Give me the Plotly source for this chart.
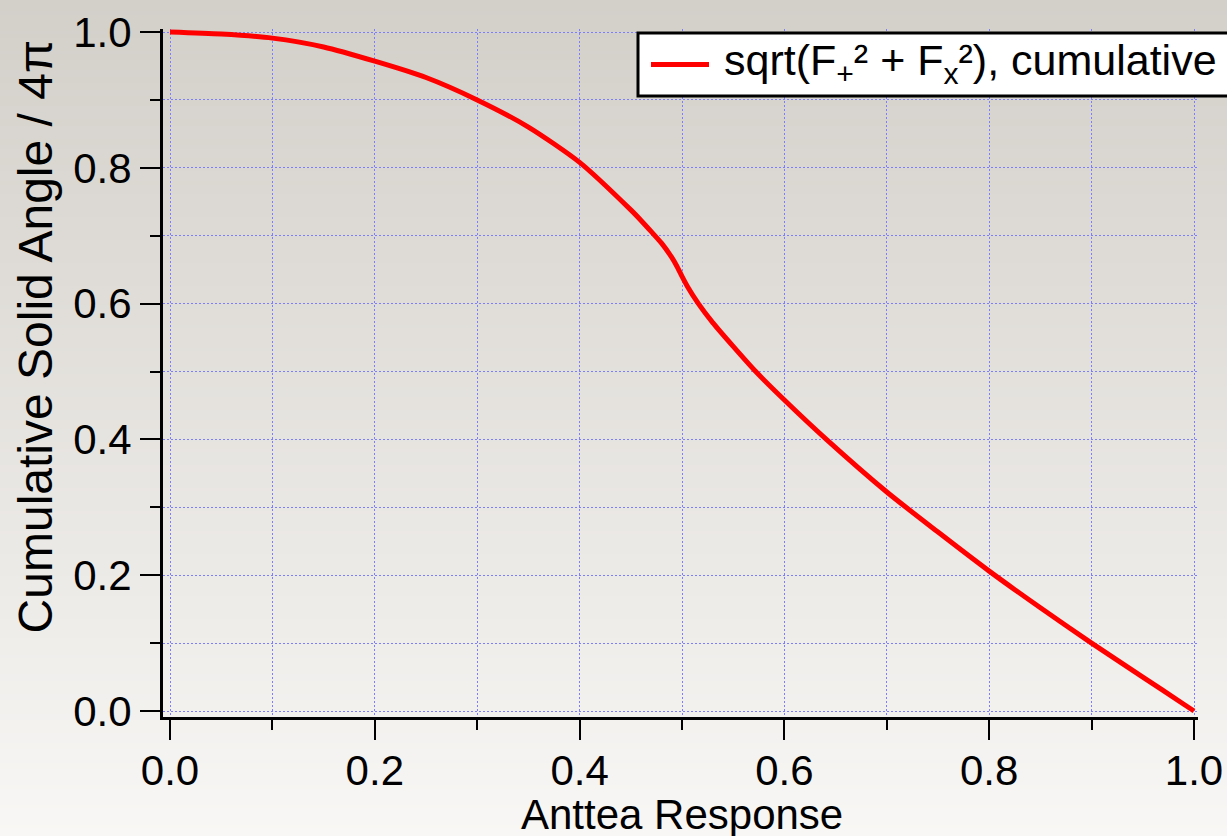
import base64
import struct
import zlib

import plotly.graph_objects as go

# Cumulative sky fraction (solid angle / 4π) with antenna response above a given value
response = [0.0, 0.05, 0.1, 0.15, 0.2, 0.25, 0.3, 0.35, 0.4, 0.45, 0.46, 0.47,
            0.48, 0.49, 0.495, 0.5, 0.505, 0.516, 0.53, 0.55, 0.572, 0.6, 0.641,
            0.7, 0.75, 0.8, 0.85, 0.9, 0.95, 0.99, 1.0]
cum_solid_angle = [1.000, 0.997, 0.991, 0.978, 0.957, 0.933, 0.900, 0.860, 0.808,
                   0.738, 0.7225, 0.706, 0.689, 0.668, 0.655, 0.640, 0.626, 0.600,
                   0.572, 0.537, 0.500, 0.458, 0.400, 0.3225, 0.2635, 0.206, 0.152,
                   0.100, 0.050, 0.010, 0.000]

x_ticks = [0.0, 0.2, 0.4, 0.6, 0.8, 1.0]
y_ticks = [0.0, 0.2, 0.4, 0.6, 0.8, 1.0]

series_name = "sqrt(F<sub>+</sub>² + F<sub>x</sub>²), cumulative"
x_title = "Anttea Response"
y_title = "Cumulative Solid Angle / 4π"

FONT = "Liberation Sans, Arial, Helvetica, sans-serif"
GRID = "rgb(125,125,255)"
W, H = 1227, 836
ML, MR, MT, MB = 163, 29, 29, 119
PW, PH = W - ML - MR, H - MT - MB


def xp(px):
    """Figure pixel column -> paper coordinate."""
    return (px - ML) / PW


def yp(py):
    """Figure pixel row -> paper coordinate."""
    return (H - MB - py) / PH


def gradient_png(top, bottom, h=256, w=2):
    raw = b""
    for i in range(h):
        t = i / (h - 1)
        c = bytes(round(a + (b - a) * t) for a, b in zip(top, bottom))
        raw += b"\x00" + c * w

    def chunk(tag, data):
        return (struct.pack(">I", len(data)) + tag + data
                + struct.pack(">I", zlib.crc32(tag + data) & 0xFFFFFFFF))

    png = (b"\x89PNG\r\n\x1a\n"
           + chunk(b"IHDR", struct.pack(">IIBBBBB", w, h, 8, 2, 0, 0, 0))
           + chunk(b"IDAT", zlib.compress(raw))
           + chunk(b"IEND", b""))
    return "data:image/png;base64," + base64.b64encode(png).decode()


fig = go.Figure()
fig.add_trace(go.Scatter(
    x=response, y=cum_solid_angle, mode="lines", name=series_name,
    line=dict(color="#ff0000", width=5, shape="spline", smoothing=0.7),
    showlegend=False,
))

axis_common = dict(
    showline=True, linewidth=3, linecolor="black",
    ticks="outside", ticklen=20, tickwidth=2, tickcolor="black",
    tickformat=".1f", tickfont=dict(family=FONT, size=42, color="black"),
    showgrid=True, gridcolor=GRID, gridwidth=1, griddash="2px,2px",
    zeroline=False,
    minor=dict(dtick=0.1, tick0=0, ticks="outside", ticklen=10, tickwidth=2,
               tickcolor="black", showgrid=True, gridcolor=GRID, gridwidth=1,
               griddash="2px,2px"),
)

fig.update_xaxes(range=[-7 / 1024, 1 + 4 / 1024], tickvals=x_ticks,
                 ticklabelstandoff=-5, **axis_common)
fig.update_yaxes(range=[-6 / 679, 1 + 3 / 679], tickvals=y_ticks, **axis_common)

# Legend box drawn by hand so the sample line matches the long swatch
shapes = [
    dict(type="rect", xref="paper", yref="paper", layer="above",
         x0=xp(638), x1=xp(1240), y0=yp(96), y1=yp(33),
         fillcolor="white", line=dict(color="black", width=3)),
    dict(type="line", xref="paper", yref="paper", layer="above",
         x0=xp(651), x1=xp(709), y0=yp(64.5), y1=yp(64.5),
         line=dict(color="#ff0000", width=5)),
]

annotations = [
    dict(text=series_name, xref="paper", yref="paper", x=xp(722), y=yp(63),
         xanchor="left", yanchor="middle", showarrow=False,
         font=dict(family=FONT, size=43, color="black")),
    dict(text=x_title, xref="paper", yref="paper", x=xp(682), y=yp(814),
         xanchor="center", yanchor="middle", showarrow=False,
         font=dict(family=FONT, size=42, color="black")),
    dict(text=y_title, xref="paper", yref="paper", x=xp(35.4), y=yp(337),
         xanchor="center", yanchor="middle", showarrow=False, textangle=-90,
         font=dict(family=FONT, size=48, color="black")),
]

fig.update_layout(
    width=W, height=H,
    margin=dict(l=ML, r=MR, t=MT, b=MB, autoexpand=False),
    paper_bgcolor="#e6e3df", plot_bgcolor="rgba(0,0,0,0)",
    font=dict(family=FONT, color="black"),
    showlegend=False,
    shapes=shapes, annotations=annotations,
    images=[dict(source=gradient_png((211, 207, 201), (248, 247, 245)),
                 xref="paper", yref="paper", x=xp(0), y=yp(0),
                 sizex=W / PW, sizey=H / PH, sizing="stretch",
                 xanchor="left", yanchor="top", layer="below")],
)

fig.write_html("out.html")
